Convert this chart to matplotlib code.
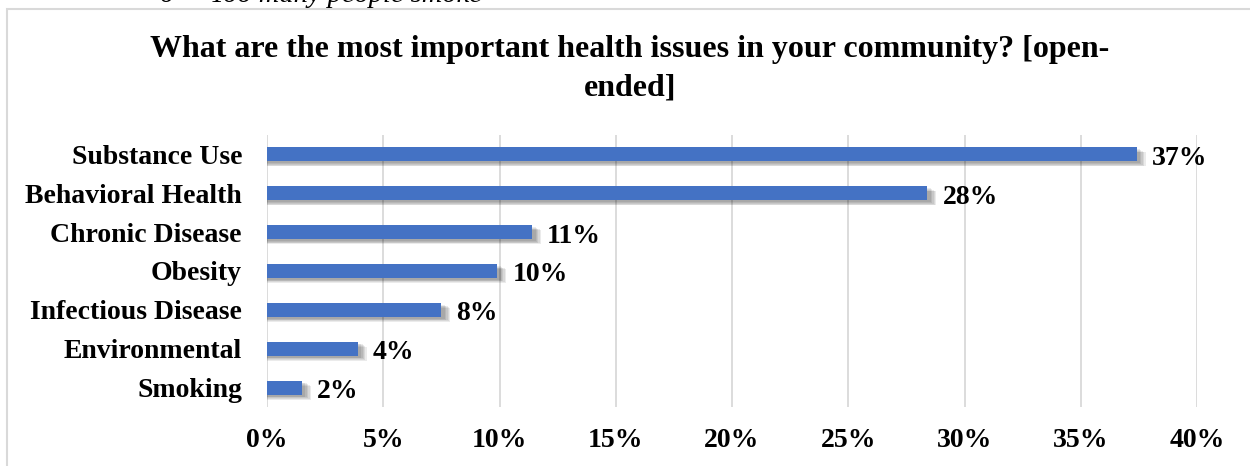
import matplotlib.pyplot as plt
from matplotlib.patches import Rectangle

categories = ["Substance Use", "Behavioral Health", "Chronic Disease", "Obesity",
              "Infectious Disease", "Environmental", "Smoking"]
shares = [37.4, 28.4, 11.4, 9.9, 7.5, 3.9, 1.5]
share_labels = ["37%", "28%", "11%", "10%", "8%", "4%", "2%"]
x_ticks = [0, 5, 10, 15, 20, 25, 30, 35, 40]

plt.rcParams['font.family'] = ['Liberation Serif', 'DejaVu Serif']

W, H = 1250, 466
fig = plt.figure(figsize=(12.5, 4.66), dpi=100)

# chart border (light grey frame, cut by the page edge)
fig.patches.append(Rectangle((7 / W, -0.1), 1.2, 1 - 9 / H + 0.1, transform=fig.transFigure,
                             fill=False, edgecolor='#d9d9d9', linewidth=1.5))

# line of text above the chart, mostly cropped
fig.text(160 / W, 1 - 2 / H, "o     Too many people smoke", style='italic',
         fontsize=20.5, ha='left', va='baseline')

fig.text(630 / W, 1 - 50 / H, "What are the most important health issues in your community? [open-",
         fontsize=23, fontweight='bold', ha='center', va='center')
fig.text(630 / W, 1 - 88 / H, "ended]", fontsize=23, fontweight='bold', ha='center', va='center')

ax = fig.add_axes([267 / W, 1 - 407 / H, (1197 - 267) / W, (407 - 135) / H])
pos = list(range(len(categories)))

# soft shadow under each bar
for s in range(5):
    ax.barh([p + 0.05 + s * 0.02 for p in pos], [v + 0.15 + s * 0.06 for v in shares],
            height=0.36, color='black', alpha=0.08, zorder=2, linewidth=0)
ax.barh(pos, shares, height=0.36, color='#4472c4', zorder=3)

for p, v, lab in zip(pos, shares, share_labels):
    ax.text(v + 0.65, p + 0.1, lab, fontsize=20, fontweight='bold', va='center', ha='left')

ax.set_xlim(0, 40)
ax.set_ylim(len(categories) - 0.5, -0.5)
ax.set_xticks(x_ticks)
ax.set_xticklabels([f"{t}%" for t in x_ticks], fontsize=20, fontweight='bold')
ax.set_yticks(pos)
ax.set_yticklabels(categories, fontsize=20, fontweight='bold')
ax.tick_params(axis='both', length=0)
ax.tick_params(axis='x', pad=15)
ax.tick_params(axis='y', pad=18)
ax.grid(axis='x', color='#d9d9d9', linewidth=1.3, zorder=0)
for sp in ax.spines.values():
    sp.set_visible(False)

fig.savefig("out.png", dpi=100)
